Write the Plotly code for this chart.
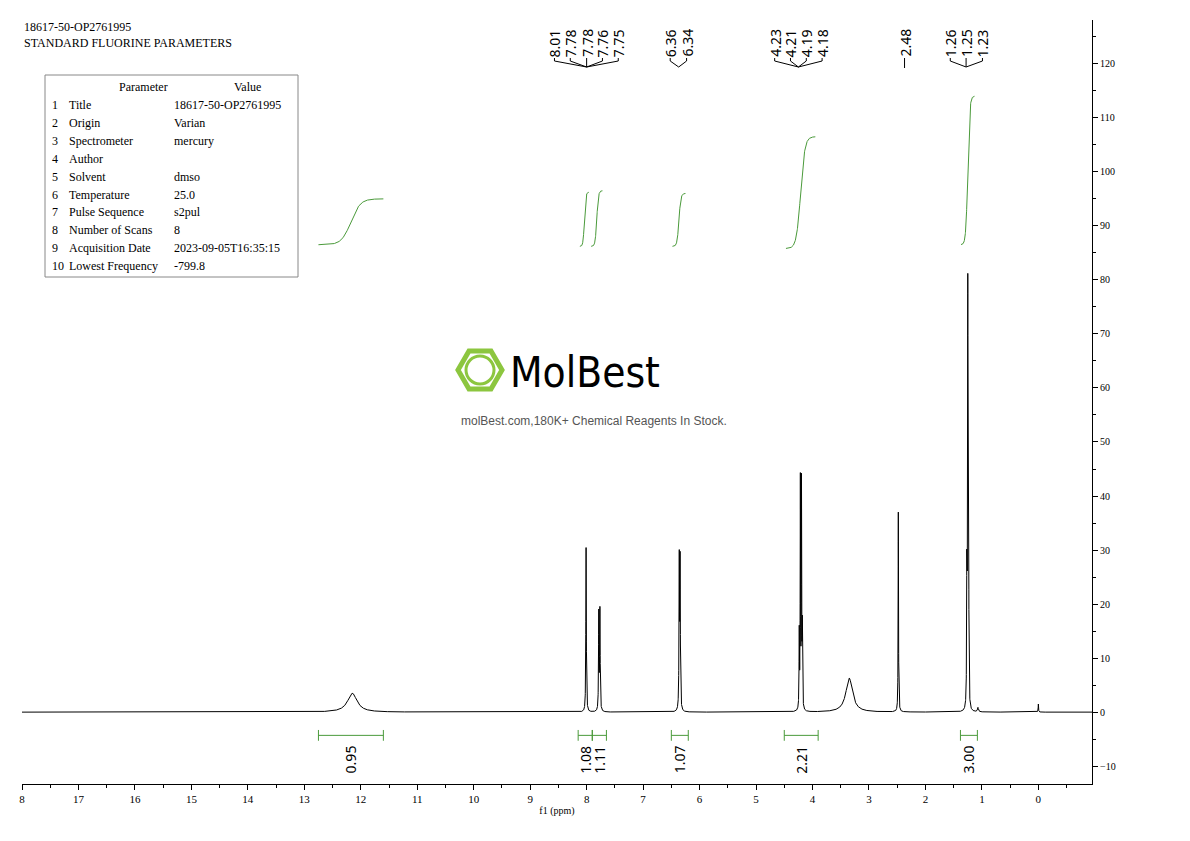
import numpy as np
import plotly.graph_objects as go

# peak list: position (ppm), height, half width (ppm)
peak_ppm = [12.15, 8.01, 7.785, 7.765, 6.36, 6.345, 4.235, 4.215, 4.195, 4.18, 3.35, 2.48, 1.265, 1.25, 1.235, 1.07, 0.0]
peak_height = [3.5, 30.5, 18.0, 18.5, 27.5, 27.0, 14.0, 42.0, 41.5, 14.5, 6.3, 37.0, 41.0, 76.0, 38.5, 0.8, 1.5]
peak_hw = [0.1, 0.005, 0.005, 0.005, 0.005, 0.005, 0.004, 0.004, 0.004, 0.004, 0.07, 0.004, 0.004, 0.004, 0.004, 0.01, 0.004]

# integral curves: start ppm, end ppm, start level, end level
int_start = [12.75, 8.12, 7.92, 6.48, 4.47, 1.37]
int_end = [11.6, 7.96, 7.72, 6.25, 3.95, 1.13]
int_lo = [86.5, 86.2, 86.2, 86.2, 85.8, 86.5]
int_hi = [95.0, 96.2, 96.5, 96.0, 106.5, 114.0]

# integration bars under the baseline
bar_from = [12.75, 8.15, 7.9, 6.5, 4.5, 1.38]
bar_to = [11.6, 7.9, 7.65, 6.2, 3.9, 1.08]
bar_label = ["0.95", "1.08", "1.11", "1.07", "2.21", "3.00"]

# peak pick labels at top (label x position in ppm, text), grouped with the peak they point to
pick_groups = [
    ([8.57, 8.29, 8.00, 7.72, 7.44], ["8.01", "7.78", "7.78", "7.76", "7.75"], 8.00),
    ([6.52, 6.23], ["6.36", "6.34"], 6.37),
    ([4.67, 4.39, 4.11, 3.83], ["4.23", "4.21", "4.19", "4.18"], 4.25),
    ([2.37], ["2.48"], 2.37),
    ([1.56, 1.28, 0.99], ["1.26", "1.25", "1.23"], 1.28),
]

params = ["Title", "Origin", "Spectrometer", "Author", "Solvent", "Temperature",
          "Pulse Sequence", "Number of Scans", "Acquisition Date", "Lowest Frequency"]
values = ["18617-50-OP2761995", "Varian", "mercury", "", "dmso", "25.0",
          "s2pul", "8", "2023-09-05T16:35:15", "-799.8"]

x = np.linspace(18, -0.95, 24000)
y = np.zeros_like(x)
for p, h, w in zip(peak_ppm, peak_height, peak_hw):
    y += h * w**2 / ((x - p)**2 + w**2)

fig = go.Figure()
fig.add_trace(go.Scatter(x=x, y=y, mode="lines", line=dict(color="black", width=1), hoverinfo="skip"))

G = "#4a9a3a"
for s, e, lo, hi in zip(int_start, int_end, int_lo, int_hi):
    xi = np.linspace(s, e, 200)
    t = (s - xi) / (s - e)
    yi = lo + (hi - lo) * (1 + np.tanh((t - 0.5) * 7)) / 2
    fig.add_trace(go.Scatter(x=xi, y=yi, mode="lines", line=dict(color=G, width=1), hoverinfo="skip"))

ybar = -4.3
for a, b, lab in zip(bar_from, bar_to, bar_label):
    fig.add_shape(type="line", x0=a, x1=b, y0=ybar, y1=ybar, line=dict(color=G, width=1))
    for xx in (a, b):
        fig.add_shape(type="line", x0=xx, x1=xx, y0=ybar - 1, y1=ybar + 1, line=dict(color=G, width=1))
    fig.add_annotation(x=(a + b) / 2, y=ybar - 1.5, text=lab, textangle=-90, showarrow=False,
                       yanchor="top", font=dict(family="Noto Sans", size=14, color="black"))


def px(xp):
    return (xp - 22) / (1092 - 22)


def py(yp):
    return (784 - yp) / (784 - 20)


for xs, labs, target in pick_groups:
    for xl, lab in zip(xs, labs):
        fig.add_annotation(x=xl, y=py(59), yref="paper", text=lab, textangle=-90, showarrow=False,
                           yanchor="bottom", font=dict(family="Noto Sans", size=14, color="black"))
        if len(xs) == 1:
            fig.add_shape(type="line", x0=xl, x1=xl, y0=py(58), y1=py(68), yref="paper", line=dict(color="black", width=1))
        else:
            fig.add_shape(type="path", yref="paper",
                          path=f"M {xl} {py(58)} L {xl} {py(61)} L {target} {py(67)}",
                          line=dict(color="black", width=1))

serif = "Liberation Serif"
fig.add_annotation(x=0, y=py(18), xref="paper", yref="paper", xanchor="left", yanchor="top", showarrow=False,
                   text="18617-50-OP2761995<br>STANDARD FLUORINE PARAMETERS", align="left",
                   font=dict(family=serif, size=12, color="black"))

# parameter table
fig.add_shape(type="rect", xref="paper", yref="paper", x0=px(45), x1=px(298), y0=py(277), y1=py(75),
              line=dict(color="#888", width=1))
fig.add_annotation(x=px(117), y=py(78), xref="paper", yref="paper", text="Parameter", showarrow=False,
                   font=dict(family=serif, size=12, color="black"))
fig.add_annotation(x=px(232), y=py(78), xref="paper", yref="paper", text="Value", showarrow=False,
                   font=dict(family=serif, size=12, color="black"))
for i, (pn, pv) in enumerate(zip(params, values)):
    yy = py(96 + i * 17.9)
    fig.add_annotation(x=px(50), y=yy, xref="paper", yref="paper", xanchor="left", text=str(i + 1),
                       showarrow=False, font=dict(family=serif, size=12, color="black"))
    fig.add_annotation(x=px(67), y=yy, xref="paper", yref="paper", xanchor="left", text=pn,
                       showarrow=False, font=dict(family=serif, size=12, color="black"))
    if pv:
        fig.add_annotation(x=px(172), y=yy, xref="paper", yref="paper", xanchor="left", text=pv,
                           showarrow=False, font=dict(family=serif, size=12, color="black"))

# watermark
hx, hy, r = 480, 370, 22
pts = [(hx + r * np.cos(np.pi / 3 * k), hy + r * np.sin(np.pi / 3 * k)) for k in range(6)]
path = "M " + " L ".join(f"{px(a)} {py(b)}" for a, b in pts) + " Z"
fig.add_shape(type="path", xref="paper", yref="paper", path=path, line=dict(color="#8cc63f", width=5))
fig.add_shape(type="circle", xref="paper", yref="paper", x0=px(466), x1=px(494), y0=py(384), y1=py(356),
              line=dict(color="#8cc63f", width=3))
fig.add_annotation(x=px(508), y=py(372), xref="paper", yref="paper", xanchor="left", text="MolBest",
                   showarrow=False, font=dict(family="DejaVu Sans Condensed", size=42, color="black"))
fig.add_annotation(x=px(594), y=py(421), xref="paper", yref="paper", text="molBest.com,180K+ Chemical Reagents In Stock.",
                   showarrow=False, font=dict(family="Liberation Sans", size=12, color="#555"))

fig.update_layout(
    width=1190, height=841, margin=dict(l=14, r=106, t=12, b=65),
    plot_bgcolor="white", paper_bgcolor="white", showlegend=False,
    xaxis=dict(range=[18, -0.95], showgrid=False, zeroline=False, showline=True, linecolor="black",
               ticks="outside", tickcolor="black", tickvals=list(range(0, 19)),
               ticktext=[str(v) for v in range(0, 18)] + ["8"],
               minor=dict(ticks="outside", dtick=0.5, ticklen=3, tickcolor="black"),
               tickfont=dict(family=serif, size=11, color="black"),
               title=dict(text="f1 (ppm)", font=dict(family=serif, size=10, color="black"), standoff=2)),
    yaxis=dict(range=[-13.3, 128.1], side="right", showgrid=False, zeroline=False, showline=True, linecolor="black",
               ticks="outside", tickcolor="black", dtick=10, ticklen=5,
               minor=dict(ticks="outside", dtick=5, ticklen=3, tickcolor="black"),
               tickfont=dict(family=serif, size=10, color="black")),
)

fig.write_html("out.html")
